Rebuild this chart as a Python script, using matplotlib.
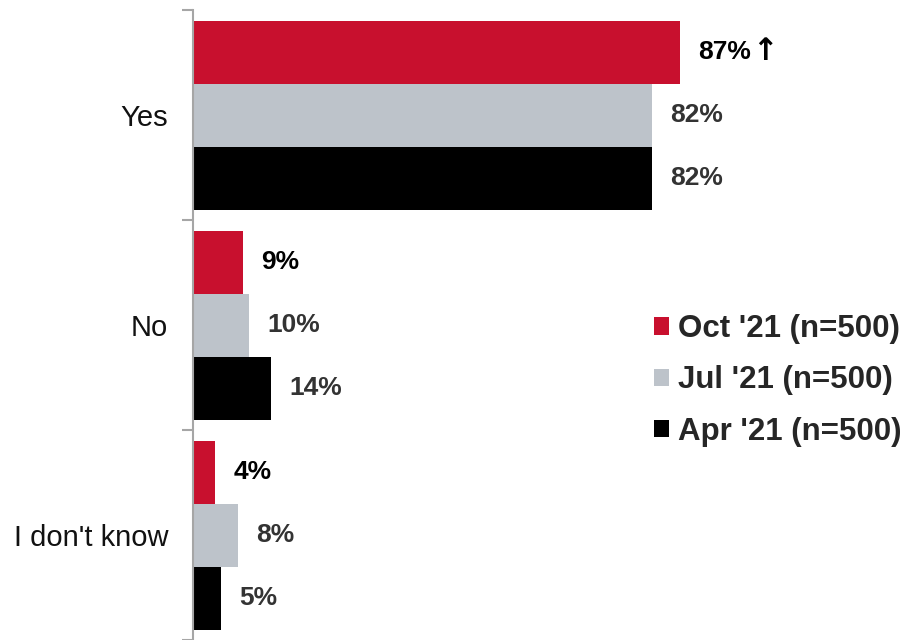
import matplotlib
matplotlib.use("Agg")
import matplotlib.pyplot as plt
from matplotlib.patches import Patch

plt.rcParams['font.family'] = ['Liberation Sans', 'DejaVu Sans']

categories = ["Yes", "No", "I don't know"]
series = ["Oct '21 (n=500)", "Jul '21 (n=500)", "Apr '21 (n=500)"]
oct21 = [87, 9, 4]
jul21 = [82, 10, 8]
apr21 = [82, 14, 5]
arrows = [["↑", "", ""], ["", "", ""], ["", "", ""]]
colors = ["#C8102E", "#BDC3CA", "#000000"]
label_colors = ["#000000", "#333333", "#333333"]

fig = plt.figure(figsize=(9.07, 6.4), dpi=100)
ax = fig.add_axes([193/907, 0, 1 - 193/907, 630/640])

values = [oct21, jul21, apr21]
h = 0.3
offsets = [-0.3, 0.0, 0.3]
for si, (vals, col, off) in enumerate(zip(values, colors, offsets)):
    ys = [i + off for i in range(len(categories))]
    ax.barh(ys, vals, height=h, color=col, edgecolor='none')
    for ci, (y, v) in enumerate(zip(ys, vals)):
        t = ax.annotate(f"{v}%", (v, y), xytext=(13, 0), textcoords='offset points',
                        va='center', ha='left', fontsize=19, fontweight='bold', color=label_colors[si])
        if arrows[si][ci]:
            ax.annotate(arrows[si][ci], xy=(1, 0.5), xycoords=t, xytext=(0.5, 0),
                        textcoords='offset points', va='center', ha='left', fontsize=22,
                        fontweight='bold', color=label_colors[si], family='DejaVu Sans')

ax.set_xlim(0, (907 - 193) / 5.6)
ax.set_ylim(2.5, -0.5)
ax.set_yticks([-0.5, 0.5, 1.5, 2.5])
ax.set_yticklabels([])
ax.set_yticks(range(len(categories)), minor=True)
ax.set_yticklabels(categories, minor=True, fontsize=21, color='#111111')
ax.tick_params(axis='y', which='major', length=8, width=1.5, color='#A6A6A6')
ax.tick_params(axis='y', which='minor', length=0, pad=18)
ax.set_xticks([])
for s in ['top', 'right', 'bottom']:
    ax.spines[s].set_visible(False)
ax.spines['left'].set_color('#A6A6A6')
ax.spines['left'].set_linewidth(1.5)

handles = [Patch(facecolor=c, edgecolor='none', label=s) for c, s in zip(colors, series)]
leg = fig.legend(handles=handles, loc='upper left', bbox_to_anchor=(626/907, 1 - 286/640),
                 frameon=False, handlelength=0.48, handleheight=0.48, handletextpad=0.3,
                 labelspacing=0.68, prop={'size': 22.5, 'weight': 'bold'})
for t in leg.get_texts():
    t.set_color('#262626')

fig.savefig("out.png", dpi=100)
